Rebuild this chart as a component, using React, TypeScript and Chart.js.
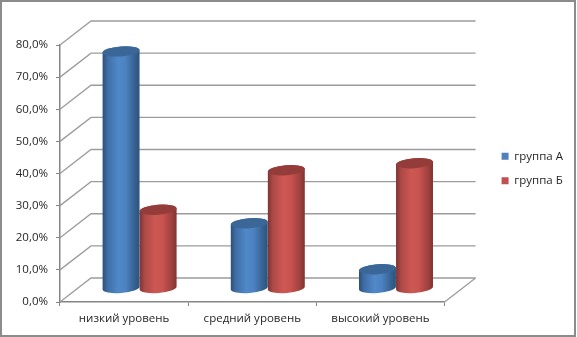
import React, { useEffect, useRef } from "react";
import { Chart, registerables } from "chart.js";

Chart.register(...registerables);

const categories = ["низкий уровень", "средний уровень", "высокий уровень"];
const groupA = [73.8, 20.3, 6];
const groupB = [24.5, 36.8, 39];
const seriesNames = ["группа А", "группа Б"];
const yTicks = { max: 80, step: 10 };

const DEPTH_X = 31;
const DEPTH_Y = -24;
const MID_Y = -13.5;
const FONT = "'Open Sans', 'Noto Sans', sans-serif";
const GRID = "#9c9c9c";
const AXIS = "#858585";
const TEXT = "#262626";

const palettes = [
  { base: "#4F81BD", stops: ["#2c4f78", "#3f6ea6", "#5088c9", "#4c82c1", "#35608f", "#2d527c"], top: "#3a6798" },
  { base: "#C0504D", stops: ["#7f3331", "#ad4a47", "#cd5753", "#c9534f", "#9c403d", "#7f3331"], top: "#943c3a" },
];

function cylinder(ctx: CanvasRenderingContext2D, cx: number, topY: number, baseY: number, w: number, p: typeof palettes[number]) {
  const rx = w / 2;
  const ry = 5;
  const rot = -0.075;
  const dxEdge = rx * Math.cos(rot);
  const dyEdge = rx * Math.sin(rot);
  const g = ctx.createLinearGradient(cx - rx, 0, cx + rx, 0);
  [0, 0.14, 0.42, 0.62, 0.88, 1].forEach((s, i) => g.addColorStop(s, p.stops[i]));
  ctx.save();
  ctx.beginPath();
  ctx.ellipse(cx, baseY, rx, ry, rot, 0, Math.PI, false);
  ctx.lineTo(cx - dxEdge, topY - dyEdge);
  ctx.ellipse(cx, topY, rx, ry, rot, Math.PI, 0, false);
  ctx.closePath();
  ctx.fillStyle = g;
  ctx.fill();
  ctx.beginPath();
  ctx.ellipse(cx, topY, rx, ry, rot, 0, Math.PI * 2);
  ctx.fillStyle = p.top;
  ctx.fill();
  ctx.restore();
}

const frame3d = {
  id: "frame3d",
  beforeDraw(chart: any) {
    const { ctx, width, height } = chart;
    ctx.save();
    ctx.fillStyle = "#ffffff";
    ctx.fillRect(0, 0, width, height);
    ctx.strokeStyle = "#8c8c8c";
    ctx.lineWidth = 2;
    ctx.strokeRect(1, 1, width - 3, height - 2);
    ctx.restore();
  },
  beforeDatasetsDraw(chart: any) {
    const { ctx, chartArea, scales } = chart;
    const y = scales.y;
    ctx.save();
    ctx.strokeStyle = GRID;
    ctx.lineWidth = 1.3;
    for (let v = 0; v <= yTicks.max; v += yTicks.step) {
      const py = y.getPixelForValue(v);
      ctx.beginPath();
      ctx.moveTo(chartArea.left, py);
      ctx.lineTo(chartArea.left + DEPTH_X, py + DEPTH_Y);
      ctx.lineTo(chartArea.right + DEPTH_X, py + DEPTH_Y);
      ctx.stroke();
    }
    ctx.beginPath();
    ctx.moveTo(chartArea.right, chartArea.bottom);
    ctx.lineTo(chartArea.right + DEPTH_X, chartArea.bottom + DEPTH_Y);
    ctx.stroke();
    ctx.restore();
  },
  beforeDatasetDraw(chart: any, args: any) {
    const meta = args.meta;
    const { ctx } = chart;
    meta.data.forEach((bar: any) => {
      const props = bar.getProps(["x", "y", "base", "width"], true);
      cylinder(ctx, props.x + DEPTH_X / 2, props.y + MID_Y, props.base + MID_Y, props.width, palettes[args.index]);
    });
    return false;
  },
};

export default function App() {
  const ref = useRef<HTMLCanvasElement | null>(null);
  useEffect(() => {
    const chart = new Chart(ref.current as HTMLCanvasElement, {
      type: "bar",
      plugins: [frame3d],
      data: {
        labels: categories,
        datasets: [
          { label: seriesNames[0], data: groupA, backgroundColor: palettes[0].base, categoryPercentage: 0.578, barPercentage: 1 },
          { label: seriesNames[1], data: groupB, backgroundColor: palettes[1].base, categoryPercentage: 0.578, barPercentage: 1 },
        ],
      } as any,
      options: {
        animation: false,
        responsive: false,
        layout: { padding: { left: 0, top: 0, bottom: 0, right: 4 } },
        font: { family: FONT },
        scales: {
          x: {
            grid: { drawOnChartArea: false, color: AXIS, tickLength: 4 },
            border: { color: AXIS, width: 1.5 },
            ticks: { color: TEXT, font: { family: FONT, size: 11.5 }, padding: 6, maxRotation: 0, autoSkip: false },
            afterFit(s: any) { s.height = 35; },
          },
          y: {
            min: 0,
            max: yTicks.max,
            ticks: {
              stepSize: yTicks.step,
              color: TEXT,
              font: { family: FONT, size: 11.5 },
              padding: 8,
              callback: (v: any) => Number(v).toFixed(1).replace(".", ",") + "%",
            },
            grid: { drawOnChartArea: false, color: AXIS, tickLength: 4 },
            border: { color: AXIS, width: 1.5 },
            afterFit(s: any) { s.width = 60; },
          },
          padTop: {
            type: "linear", position: "top", axis: "x",
            grid: { display: false }, border: { display: false }, ticks: { display: false },
            afterFit(s: any) { s.height = 45; },
          },
          padRight: {
            type: "linear", position: "right", axis: "y",
            grid: { display: false }, border: { display: false }, ticks: { display: false },
            afterFit(s: any) { s.width = 44; },
          },
        },
        plugins: {
          tooltip: { enabled: false },
          legend: {
            position: "right",
            labels: {
              boxWidth: 7,
              boxHeight: 7,
              padding: 13,
              color: TEXT,
              font: { family: FONT, size: 11.5 },
            },
          },
        },
      } as any,
    });
    return () => chart.destroy();
  }, []);
  return (
    <div style={{ position: "fixed", left: 0, top: 0, width: 577, height: 337 }}>
      <canvas ref={ref} width={577} height={337} style={{ display: "block" }} />
    </div>
  );
}
